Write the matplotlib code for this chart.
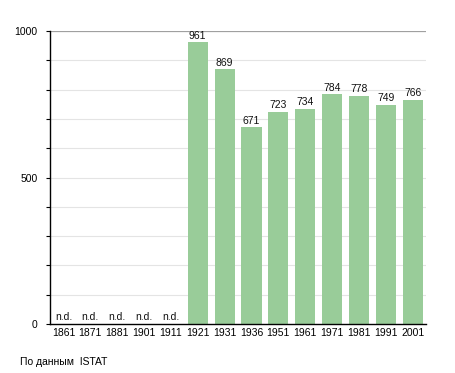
import matplotlib
matplotlib.use("Agg")
import matplotlib.pyplot as plt
from matplotlib.ticker import MultipleLocator

plt.rcParams["font.family"] = ["Liberation Sans", "DejaVu Sans"]

years = ["1861", "1871", "1881", "1901", "1911", "1921", "1931", "1936",
         "1951", "1961", "1971", "1981", "1991", "2001"]
population = [None, None, None, None, None, 961, 869, 671, 723, 734, 784, 778, 749, 766]
source_note = "По данным  ISTAT"

fig = plt.figure(figsize=(4.55, 3.73), dpi=100)
ax = fig.add_axes([50/455, 1 - 324/373, 376/455, 293/373])

x = list(range(len(years)))
vals = [v if v is not None else 0 for v in population]
ax.bar(x, vals, width=0.75, color="#99cc99", zorder=2)

for xi, v in zip(x, population):
    if v is None:
        ax.text(xi, 8, "n.d.", ha="center", va="bottom", fontsize=7.5, color="#111111")
    else:
        ax.text(xi, v + 6, str(v), ha="center", va="bottom", fontsize=7.5, color="#111111")

ax.set_xlim(-0.5, len(years) - 0.5)
ax.set_ylim(0, 1000)
ax.set_xticks(x)
ax.set_xticklabels(years, fontsize=7.5)
ax.set_yticks([0, 500, 1000])
ax.set_yticklabels(["0", "500", "1000"], fontsize=7.5)
ax.yaxis.set_minor_locator(MultipleLocator(100))
ax.tick_params(axis="x", length=0, pad=3)
ax.tick_params(axis="y", which="both", length=3, width=0.8, pad=6)

for yv in range(100, 1000, 100):
    ax.axhline(yv, color="#e4e4e4", lw=0.8, zorder=1)
ax.axhline(1000, color="#a0a0a0", lw=0.9, zorder=1)

for s in ["top", "right"]:
    ax.spines[s].set_visible(False)
ax.spines["left"].set_linewidth(1.0)
ax.spines["bottom"].set_linewidth(1.0)

fig.text(20/455, 1 - 362/373, source_note, fontsize=7.5, va="center", ha="left")

fig.savefig("out.png", dpi=100)
